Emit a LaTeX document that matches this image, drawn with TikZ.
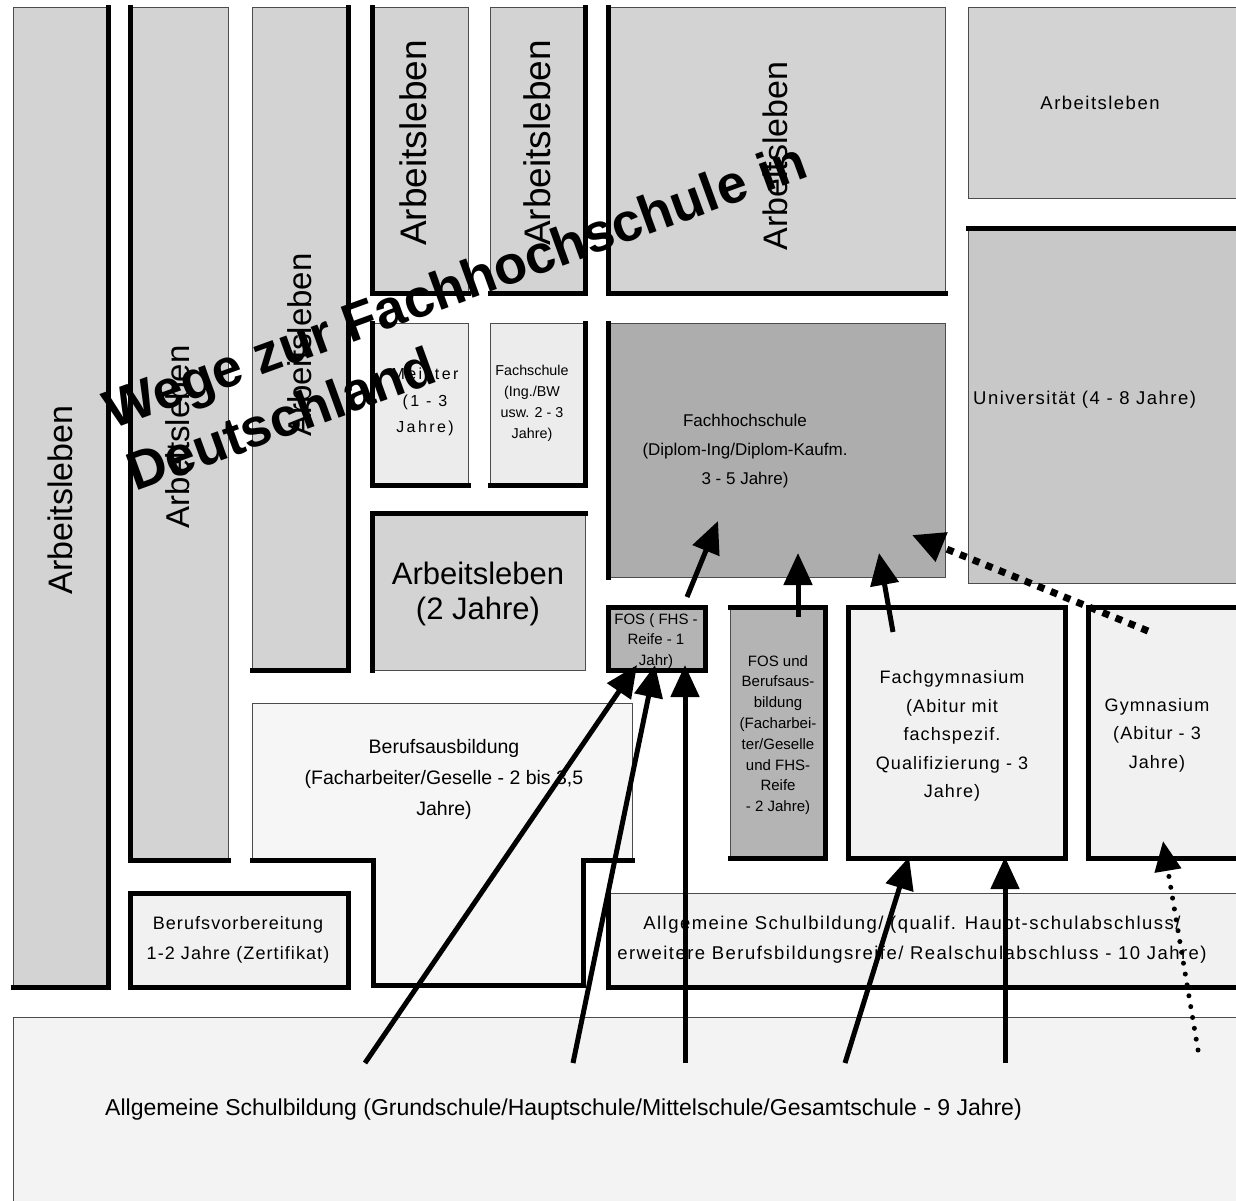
\documentclass[tikz,border=0pt]{standalone}
\usepackage{fontspec}
\setmainfont{Liberation Sans}
\usetikzlibrary{arrows.meta}
\newcommand{\fsz}[2]{\fontsize{#1}{#2}\selectfont}
\definecolor{gA}{HTML}{D3D3D3}
\definecolor{gU}{HTML}{C8C8C8}
\definecolor{gF}{HTML}{ADADAD}
\definecolor{gS}{HTML}{B4B4B4}
\definecolor{gL}{HTML}{ECECEC}
\definecolor{gP}{HTML}{F1F1F1}
\definecolor{gQ}{HTML}{F3F3F3}
\definecolor{gB}{HTML}{F6F6F6}
\begin{document}
\begin{tikzpicture}[x=1pt,y=-1pt,
  box/.style={draw=black!70, line width=0.9pt, inner sep=0pt, outer sep=0pt, anchor=north west},
  thk/.style={line width=5pt, line join=miter, line cap=rect},
  lbl/.style={inner sep=0pt, align=center},
  sml/.style={font=\fsz{18.5}{30}\addfontfeatures{LetterSpace=8}},
  arr/.style={line width=5pt, -{Triangle[length=32pt,width=28pt]}},
  sqdot/.style={line width=7pt, dash pattern=on 7pt off 7pt, -{Triangle[length=32pt,width=30pt]}},
  rdot/.style={line width=5pt, line cap=round, dash pattern=on 0pt off 11pt, -{Triangle[length=30pt,width=26pt]}},
  ttl/.style={inner sep=0pt, anchor=base west, rotate=20, font=\bfseries\fsz{54}{60}}
]
\clip (0,0) rectangle (1236,1200);
\fill[white] (0,0) rectangle (1236,1200);

% boxes
\node[box, fill=gA, minimum width=95, minimum height=980] (b1) at (13,7) {};
\node[box, fill=gA, minimum width=98, minimum height=853] (b2) at (130,7) {};
\node[box, fill=gA, minimum width=96, minimum height=663] (b3) at (252,7) {};
\node[box, fill=gA, minimum width=96, minimum height=286] (b4) at (372,7) {};
\node[box, fill=gA, minimum width=95, minimum height=286] (b5) at (490,7) {};
\node[box, fill=gA, minimum width=337, minimum height=286] (b6) at (608,7) {};
\node[box, fill=gA, minimum width=280, minimum height=191] (b7) at (968,7) {};
\node[box, fill=gU, minimum width=280, minimum height=355] (univ) at (968,228) {};
\node[box, fill=gL, minimum width=96, minimum height=162] (meister) at (372,323) {};
\node[box, fill=gL, minimum width=95, minimum height=162] (fschule) at (490,323) {};
\node[box, fill=gF, minimum width=337, minimum height=254] (fh) at (608,323) {};
\node[box, fill=gA, minimum width=213, minimum height=157] (arb2) at (372,513) {};
\node[box, fill=gS, minimum width=97, minimum height=63] (fos) at (608,607) {};
\node[box, fill=gS, minimum width=95, minimum height=251] (fosb) at (730,607) {};
\node[box, fill=gP, minimum width=217, minimum height=251] (fgym) at (848,607) {};
\node[box, fill=gP, minimum width=160, minimum height=251] (gym) at (1088,607) {};
\node[box, fill=gP, minimum width=218, minimum height=94] (bvor) at (130,893) {};
\node[box, fill=gP, minimum width=640, minimum height=94] (allg10) at (608,893) {};
\node[box, fill=gQ, minimum width=1240, minimum height=200] (allg9) at (13,1017) {};
\filldraw[fill=gB, draw=black!70, line width=0.9pt] (252,703) -- (632,703) -- (632,860) -- (583,860) -- (583,985) -- (373,985) -- (373,860) -- (252,860) -- cycle;

% thick edges
\draw[thk] (b1.north east) -- (b1.south east) -- (b1.south west);
\draw[thk] (b2.north west) -- (b2.south west) -- (b2.south east);
\draw[thk] (b3.north east) -- (b3.south east) -- (b3.south west);
\draw[thk] (b4.north west) -- (b4.south west) -- (b4.south east);
\draw[thk] (b5.north east) -- (b5.south east) -- (b5.south west);
\draw[thk] (b6.north west) -- (b6.south west) -- (b6.south east);
\draw[thk] (univ.north west) -- (univ.north east);
\draw[thk] (meister.north west) -- (meister.south west) -- (meister.south east);
\draw[thk] (fschule.north east) -- (fschule.south east) -- (fschule.south west);
\draw[thk] (fh.north west) -- (fh.south west);
\draw[thk] (arb2.south west) -- (arb2.north west) -- (arb2.north east);
\draw[thk] (fos.north west) rectangle (fos.south east);
\draw[thk] (fosb.north west) -- (fosb.north east) -- (fosb.south east) -- (fosb.south west);
\draw[thk] (fgym.north west) rectangle (fgym.south east);
\draw[thk] (gym.north east) -- (gym.north west) -- (gym.south west) -- (gym.south east);
\draw[thk] (bvor.north west) rectangle (bvor.south east);
\draw[thk] (allg10.north west) -- (allg10.south west) -- (allg10.south east);
\draw[thk] (252,860) -- (373,860) -- (373,985) -- (583,985) -- (583,860) -- (632,860);

% texts
\node[lbl, rotate=90, font=\fsz{34}{40}] (tb1) at (60,500) {Arbeitsleben};
\node[lbl, rotate=90, font=\fsz{33}{40}] (tb2) at (178,437) {Arbeitsleben};
\node[lbl, rotate=90, font=\fsz{33}{40}] (tb3) at (300,345) {Arbeitsleben};
\node[lbl, rotate=90, font=\fsz{37}{40}] (tb4) at (413,143) {Arbeitsleben};
\node[lbl, rotate=90, font=\fsz{37}{40}] (tb5) at (537,143) {Arbeitsleben};
\node[lbl, rotate=90, font=\fsz{34}{40}] (tb6) at (775,156) {Arbeitsleben};
\node[lbl, sml] (tb7) at (1100,103) {Arbeitsleben};
\node[lbl, sml, anchor=west] (tuniv) at (973,400) {Universität (4 - 8 Jahre)};
\node[lbl, font=\fsz{16}{26.5}\addfontfeatures{LetterSpace=15}] (tmeister) at (425,402) {Meister\\(1 - 3\\Jahre)};
\node[lbl, font=\fsz{14.3}{21}] (tfschule) at (532,403) {Fachschule\\(Ing./BW\\usw. 2 - 3\\Jahre)};
\node[lbl, font=\fsz{17}{29}] (tfh) at (745,451) {Fachhochschule\\(Diplom-Ing/Diplom-Kaufm.\\3 - 5 Jahre)};
\node[lbl, font=\fsz{31}{35}] (tarb2) at (478,594) {Arbeitsleben\\(2 Jahre)};
\node[lbl, font=\fsz{15}{20.5}] (tfos) at (656,641) {FOS ( FHS -\\Reife - 1\\Jahr)};
\node[lbl, font=\fsz{15}{20.8}] (tfosb) at (778,735) {FOS und\\Berufsaus-\\bildung\\(Facharbei-\\ter/Geselle\\und FHS-\\Reife\\- 2 Jahre)};
\node[lbl, font=\fsz{18}{28.5}\addfontfeatures{LetterSpace=6}] (tfgym) at (952,736) {Fachgymnasium\\(Abitur mit\\fachspezif.\\Qualifizierung - 3\\Jahre)};
\node[lbl, font=\fsz{18}{28.5}\addfontfeatures{LetterSpace=6}] (tgym) at (1157,735) {Gymnasium\\(Abitur - 3\\Jahre)};
\node[lbl, font=\fsz{19.5}{31}] (tberuf) at (444,779) {Berufsausbildung\\(Facharbeiter/Geselle - 2 bis 3,5\\Jahre)};
\node[lbl, font=\fsz{18}{30}\addfontfeatures{LetterSpace=6}] (tbvor) at (238,940) {Berufsvorbereitung\\1-2 Jahre (Zertifikat)};
\node[lbl, sml] (tallg10) at (912,940) {Allgemeine Schulbildung/ (qualif. Haupt-schulabschluss/\\erweitere Berufsbildungsreife/ Realschulabschluss - 10 Jahre)};
\node[lbl, anchor=west, font=\fsz{23}{28}] (tallg9) at (105,1110) {Allgemeine Schulbildung (Grundschule/Hauptschule/Mittelschule/Gesamtschule - 9 Jahre)};

% arrows
\coordinate (a1s) at (365,1063); \coordinate (a1e) at (637,665);
\coordinate (a2s) at (573,1063); \coordinate (a2e) at (655,665);
\coordinate (a3s) at (685,1063); \coordinate (a3e) at (685,665);
\coordinate (a4s) at (687,597);  \coordinate (a4e) at (718,521);
\coordinate (a5s) at (798,617);  \coordinate (a5e) at (798,553);
\coordinate (a6s) at (893,632);  \coordinate (a6e) at (879,553);
\coordinate (a7s) at (1148,631); \coordinate (a7e) at (912,535);
\coordinate (a8s) at (845,1063); \coordinate (a8e) at (909,857);
\coordinate (a9s) at (1005,1063); \coordinate (a9e) at (1005,857);
\coordinate (a10s) at (1198,1050); \coordinate (a10e) at (1163,841);
\draw[arr] (a1s) -- (a1e);
\draw[arr] (a2s) -- (a2e);
\draw[arr] (a3s) -- (a3e);
\draw[arr] (a4s) -- (a4e);
\draw[arr] (a5s) -- (a5e);
\draw[arr] (a6s) -- (a6e);
\draw[sqdot] (a7s) -- (a7e);
\draw[arr] (a8s) -- (a8e);
\draw[arr] (a9s) -- (a9e);
\draw[rdot] (a10s) -- (a10e);

% title
\node[ttl] (title1) at (112,430) {Wege zur Fachhochschule in};
\node[ttl] (title2) at (135,492) {Deutschland};
\end{tikzpicture}
\end{document}
